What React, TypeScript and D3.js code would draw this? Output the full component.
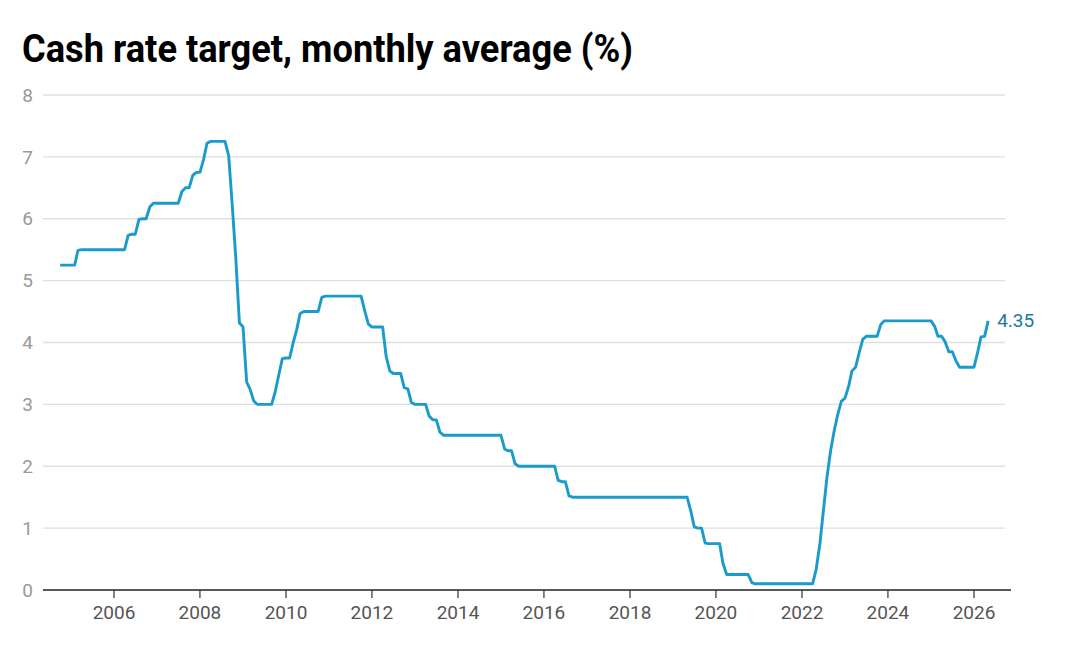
import React from "react";
import * as d3 from "d3";

const TITLE = "Cash rate target, monthly average (%)";
const START_YEAR = 2004;
const START_MONTH = 9; // October (0-based)

// Monthly average cash rate target, Oct 2004 – May 2026
const rates2004 = [5.25, 5.25, 5.25];
const rates2005 = [5.25, 5.25, 5.49, 5.5, 5.5, 5.5, 5.5, 5.5, 5.5, 5.5, 5.5, 5.5];
const rates2006 = [5.5, 5.5, 5.5, 5.5, 5.73, 5.75, 5.75, 5.99, 6.0, 6.0, 6.19, 6.25];
const rates2007 = [6.25, 6.25, 6.25, 6.25, 6.25, 6.25, 6.25, 6.44, 6.5, 6.5, 6.7, 6.75];
const rates2008 = [6.75, 6.96, 7.22, 7.25, 7.25, 7.25, 7.25, 7.25, 7.02, 6.23, 5.35, 4.32];
const rates2009 = [4.25, 3.36, 3.25, 3.06, 3.0, 3.0, 3.0, 3.0, 3.0, 3.2, 3.48, 3.74];
const rates2010 = [3.75, 3.75, 3.98, 4.2, 4.47, 4.5, 4.5, 4.5, 4.5, 4.5, 4.73, 4.75];
const rates2011 = [4.75, 4.75, 4.75, 4.75, 4.75, 4.75, 4.75, 4.75, 4.75, 4.75, 4.51, 4.3];
const rates2012 = [4.25, 4.25, 4.25, 4.25, 3.77, 3.54, 3.5, 3.5, 3.5, 3.27, 3.25, 3.03];
const rates2013 = [3.0, 3.0, 3.0, 3.0, 2.81, 2.75, 2.75, 2.55, 2.5, 2.5, 2.5, 2.5];
const rates2014 = [2.5, 2.5, 2.5, 2.5, 2.5, 2.5, 2.5, 2.5, 2.5, 2.5, 2.5, 2.5];
const rates2015 = [2.5, 2.28, 2.25, 2.25, 2.04, 2.0, 2.0, 2.0, 2.0, 2.0, 2.0, 2.0];
const rates2016 = [2.0, 2.0, 2.0, 2.0, 1.77, 1.75, 1.75, 1.52, 1.5, 1.5, 1.5, 1.5];
const rates2017 = [1.5, 1.5, 1.5, 1.5, 1.5, 1.5, 1.5, 1.5, 1.5, 1.5, 1.5, 1.5];
const rates2018 = [1.5, 1.5, 1.5, 1.5, 1.5, 1.5, 1.5, 1.5, 1.5, 1.5, 1.5, 1.5];
const rates2019 = [1.5, 1.5, 1.5, 1.5, 1.5, 1.28, 1.02, 1.0, 1.0, 0.76, 0.75, 0.75];
const rates2020 = [0.75, 0.75, 0.43, 0.25, 0.25, 0.25, 0.25, 0.25, 0.25, 0.25, 0.12, 0.1];
const rates2021 = [0.1, 0.1, 0.1, 0.1, 0.1, 0.1, 0.1, 0.1, 0.1, 0.1, 0.1, 0.1];
const rates2022 = [0.1, 0.1, 0.1, 0.1, 0.33, 0.73, 1.27, 1.82, 2.25, 2.57, 2.84, 3.05];
const rates2023 = [3.1, 3.29, 3.54, 3.6, 3.83, 4.05, 4.1, 4.1, 4.1, 4.1, 4.29, 4.35];
const rates2024 = [4.35, 4.35, 4.35, 4.35, 4.35, 4.35, 4.35, 4.35, 4.35, 4.35, 4.35, 4.35];
const rates2025 = [4.35, 4.26, 4.1, 4.1, 4.01, 3.85, 3.85, 3.7, 3.6, 3.6, 3.6, 3.6];
const rates2026 = [3.6, 3.84, 4.09, 4.1, 4.35];

const yTicks = [0, 1, 2, 3, 4, 5, 6, 7, 8];
const xTickYears = [2006, 2008, 2010, 2012, 2014, 2016, 2018, 2020, 2022, 2024, 2026];

const allRates = [
  ...rates2004, ...rates2005, ...rates2006, ...rates2007, ...rates2008, ...rates2009,
  ...rates2010, ...rates2011, ...rates2012, ...rates2013, ...rates2014, ...rates2015,
  ...rates2016, ...rates2017, ...rates2018, ...rates2019, ...rates2020, ...rates2021,
  ...rates2022, ...rates2023, ...rates2024, ...rates2025, ...rates2026,
];

type Pt = { date: Date; value: number };
const series: Pt[] = allRates.map((v, i) => ({
  date: new Date(START_YEAR, START_MONTH + i, 1),
  value: v,
}));

const W = 1080;
const H = 656;
const LINE = "#1a9bcb";
const LABEL = "#17799f";
const FONT = "Roboto, 'Noto Sans', sans-serif";

export default function App() {
  const x = d3
    .scaleTime()
    .domain([new Date(2006, 0, 1), new Date(2026, 0, 1)])
    .range([114, 974]);
  const y = d3.scaleLinear().domain([0, 8]).range([590, 95]);

  const line = d3
    .line<Pt>()
    .x((d) => x(d.date))
    .y((d) => y(d.value))
    .curve(d3.curveLinear);

  const last = series[series.length - 1];

  return (
    <svg
      width={W}
      height={H}
      viewBox={`0 0 ${W} ${H}`}
      style={{ position: "absolute", left: 0, top: 0, background: "#fff" }}
    >
      <text
        x={22}
        y={62}
        fontFamily={FONT}
        fontWeight={700}
        fontSize={38}
        fill="#000"
        textLength={611}
        lengthAdjust="spacingAndGlyphs"
      >
        {TITLE}
      </text>

      {yTicks.map((t) => (
        <g key={t}>
          {t !== 0 && (
            <line
              x1={43}
              x2={1005}
              y1={y(t)}
              y2={y(t)}
              stroke="#e0e0e0"
              strokeWidth={1.3}
            />
          )}
          <text
            x={33}
            y={y(t)}
            dy="0.35em"
            textAnchor="end"
            fontFamily={FONT}
            fontSize={19}
            fill="#999"
          >
            {t}
          </text>
        </g>
      ))}

      <path d={line(series) || ""} fill="none" stroke={LINE} strokeWidth={2.9} strokeLinejoin="round" />

      <line x1={43} x2={1011} y1={y(0)} y2={y(0)} stroke="#222" strokeWidth={1.5} />
      {xTickYears.map((yr) => {
        const xx = x(new Date(yr, 0, 1));
        return (
          <g key={yr}>
            <line x1={xx} x2={xx} y1={y(0)} y2={y(0) + 8} stroke="#333" strokeWidth={1.2} />
            <text
              x={xx}
              y={619}
              textAnchor="middle"
              fontFamily={FONT}
              fontSize={19}
              fill="#555"
            >
              {yr}
            </text>
          </g>
        );
      })}

      <text
        x={x(last.date) + 9}
        y={y(last.value)}
        dy="0.35em"
        fontFamily={FONT}
        fontSize={19}
        fill={LABEL}
      >
        {last.value.toFixed(2)}
      </text>
    </svg>
  );
}
